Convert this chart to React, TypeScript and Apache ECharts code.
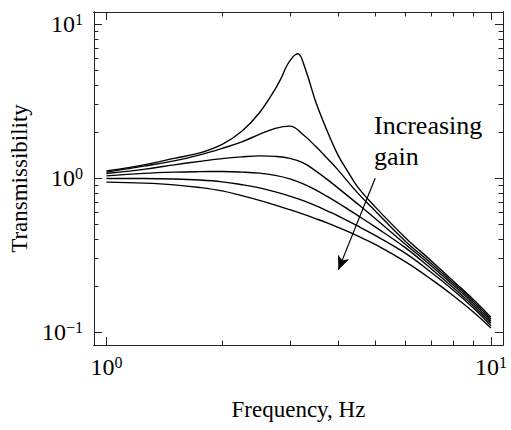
import React, { useEffect, useRef } from "react";
import * as echarts from "echarts";

const FONT = "'Liberation Serif', 'DejaVu Serif', serif";

// Frequency (Hz) samples and transmissibility values
const freqPeak = [1, 1.25, 1.5, 1.75, 2, 2.25, 2.5, 2.75, 2.85, 2.95, 3.05, 3.1, 3.15, 3.2, 3.25, 3.35, 3.5, 3.75, 4, 4.25, 4.5, 5, 6, 7, 8, 9, 10];
const trans1 = [1.115, 1.22, 1.345, 1.46, 1.658, 2.013, 2.655, 3.8, 4.48, 5.4, 6.09, 6.32, 6.41, 6.18, 5.61, 4.48, 3.145, 2.028, 1.417, 1.099, 0.878, 0.651, 0.4096, 0.2904, 0.2138, 0.1633, 0.1251];

const freq = [1, 1.25, 1.5, 1.75, 2, 2.25, 2.5, 2.75, 3, 3.25, 3.5, 3.75, 4, 4.5, 5, 6, 7, 8, 9, 10];
const trans2 = [1.094, 1.198, 1.295, 1.417, 1.561, 1.721, 1.925, 2.106, 2.176, 1.911, 1.609, 1.345, 1.132, 0.8026, 0.6133, 0.3887, 0.2797, 0.2074, 0.1585, 0.1215];
const trans3 = [1.071, 1.141, 1.22, 1.286, 1.339, 1.375, 1.396, 1.385, 1.345, 1.257, 1.115, 0.982, 0.865, 0.681, 0.548, 0.3716, 0.2695, 0.2013, 0.1538, 0.1179];
const trans4 = [1.035, 1.074, 1.094, 1.102, 1.104, 1.095, 1.078, 1.043, 0.9896, 0.918, 0.8397, 0.7615, 0.6912, 0.5736, 0.4828, 0.3527, 0.2576, 0.194, 0.1486, 0.1144];
const trans5 = [0.994, 0.9955, 0.988, 0.972, 0.946, 0.907, 0.865, 0.815, 0.765, 0.7144, 0.6631, 0.6133, 0.5693, 0.49, 0.4251, 0.3248, 0.2444, 0.1868, 0.1438, 0.1104];
const trans6 = [0.942, 0.928, 0.905, 0.87, 0.827, 0.7698, 0.7176, 0.6691, 0.6243, 0.5837, 0.5465, 0.5127, 0.4799, 0.4219, 0.3716, 0.2861, 0.2203, 0.172, 0.1354, 0.1066];

// Axis ranges and ticks
const xRange = [0.928, 10.75];
const yRange = [0.0827, 11.97];
const xMajorTicks = [1, 10];
const xMinorTicks = [2, 3, 4, 5, 6, 7, 8, 9];
const yMajorTicks = [0.1, 1, 10];
const yMinorTicks = [0.2, 0.3, 0.4, 0.5, 0.6, 0.7, 0.8, 0.9, 2, 3, 4, 5, 6, 7, 8, 9];

// Annotation
const arrowFrom = [5.0, 1.0];
const arrowTo = [4.01, 0.254];
const annotationText = "Increasing\ngain";
const xTitle = "Frequency, Hz";
const yTitle = "Transmissibility";

const lg = (v: number) => Math.log10(v);
const AXIS_COLOR = "#222";
const TICK_COLOR = "#222";

const expFormatter = (v: number) => {
  const e = Math.round(v);
  const s = e < 0 ? "\u2212" + Math.abs(e) : String(e);
  return `{b|10}{s|${s}}`;
};
const richLabel = {
  b: { fontSize: 24, fontFamily: FONT, color: "#000", lineHeight: 26 },
  s: { fontSize: 16, fontFamily: FONT, color: "#000", lineHeight: 16, verticalAlign: "top" },
};

function axisDef(dim: "x" | "y", position: string, ticks: number[], len: number, withLabel: boolean, withName: boolean) {
  const range = dim === "x" ? xRange : yRange;
  const a: any = {
    type: "value",
    position,
    min: lg(range[0]),
    max: lg(range[1]),
    splitLine: { show: false },
    axisLine: { show: true, onZero: false, lineStyle: { color: AXIS_COLOR, width: 1 } },
    axisTick: {
      show: true,
      inside: true,
      length: len,
      customValues: ticks.map(lg),
      lineStyle: { color: TICK_COLOR, width: 1 },
    },
    axisLabel: withLabel
      ? {
          show: true,
          customValues: dim === "x" ? xMajorTicks.map(lg) : yMajorTicks.map(lg),
          formatter: expFormatter,
          rich: richLabel,
          margin: dim === "x" ? 9 : 11,
        }
      : { show: false },
  };
  if (withName) {
    a.name = dim === "x" ? xTitle : yTitle;
    a.nameLocation = "middle";
    a.nameGap = dim === "x" ? 53 : 47;
    a.nameTextStyle = { fontSize: 23, fontFamily: FONT, color: "#000" };
  }
  return a;
}

const curves = [
  { f: freqPeak, t: trans1 },
  { f: freq, t: trans2 },
  { f: freq, t: trans3 },
  { f: freq, t: trans4 },
  { f: freq, t: trans5 },
  { f: freq, t: trans6 },
];

export default function App() {
  const ref = useRef<HTMLDivElement>(null);
  useEffect(() => {
    if (!ref.current) return;
    const chart = echarts.init(ref.current, null, { renderer: "svg" });
    const series: any[] = curves.map((c, i) => ({
      type: "line",
      name: "gain" + (i + 1),
      data: c.f.map((f, j) => [lg(f), lg(c.t[j])]),
      showSymbol: false,
      smooth: 0.4,
      lineStyle: { color: "#000", width: 1.4 },
      xAxisIndex: 0,
      yAxisIndex: 0,
      silent: true,
    }));
    series[0].markLine = {
      silent: true,
      symbol: ["none", "arrow"],
      symbolSize: [9, 14],
      lineStyle: { color: "#000", width: 1.2, type: "solid" },
      label: { show: false },
      data: [[{ coord: [lg(arrowFrom[0]), lg(arrowFrom[1])] }, { coord: [lg(arrowTo[0]), lg(arrowTo[1])] }]],
    };
    chart.setOption({
      animation: false,
      backgroundColor: "#fff",
      grid: { left: 86, top: 12, width: 417, height: 333 },
      xAxis: [
        axisDef("x", "bottom", xMajorTicks, 8, true, true),
        axisDef("x", "bottom", xMinorTicks, 4.5, false, false),
        axisDef("x", "top", xMajorTicks, 8, false, false),
        axisDef("x", "top", xMinorTicks, 4.5, false, false),
      ],
      yAxis: [
        axisDef("y", "left", yMajorTicks, 8, true, true),
        axisDef("y", "left", yMinorTicks, 4.5, false, false),
        axisDef("y", "right", yMajorTicks, 8, false, false),
        axisDef("y", "right", yMinorTicks, 4.5, false, false),
      ],
      series,
      graphic: [
        {
          type: "text",
          left: 374,
          top: 110,
          silent: true,
          style: { text: annotationText, font: `26px ${FONT}`, lineHeight: 31, fill: "#000" },
        },
      ],
    });
    return () => chart.dispose();
  }, []);
  return (
    <div
      ref={ref}
      style={{ position: "absolute", left: 0, top: 0, width: 511, height: 430, background: "#fff" }}
    />
  );
}
